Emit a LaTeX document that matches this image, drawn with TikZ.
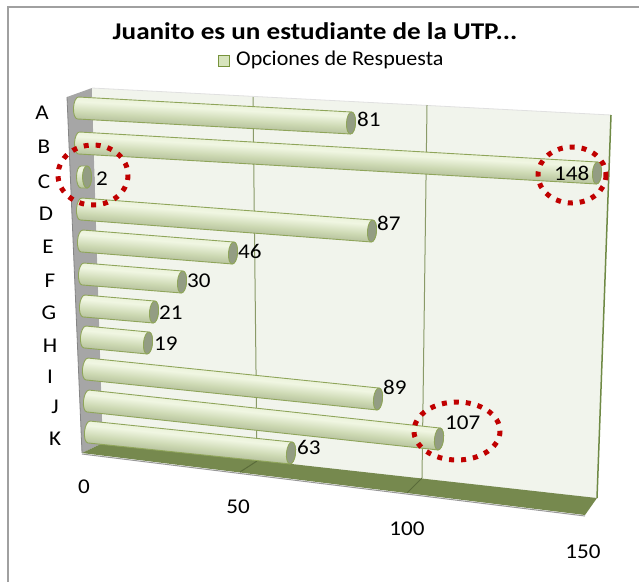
\documentclass[tikz,border=0pt]{standalone}
\usepackage{fontspec}
\setmainfont{Carlito}
\definecolor{framecol}{HTML}{A0A0A0}
\definecolor{sidewall}{HTML}{A6A6A6}
\definecolor{backwall}{HTML}{F1F4EC}
\definecolor{gridcol}{HTML}{8A9A68}
\definecolor{walledge}{HTML}{6F8A45}
\definecolor{floorcol}{HTML}{76894E}
\definecolor{floorgrid}{HTML}{5A6B3A}
\definecolor{barline}{HTML}{8FA55A}
\definecolor{capcol}{HTML}{939D83}
\definecolor{cA}{HTML}{98A083}
\definecolor{cB}{HTML}{AAB592}
\definecolor{cC}{HTML}{CCD8B2}
\definecolor{cD}{HTML}{F0F6E2}
\definecolor{cE}{HTML}{E8F0D5}
\definecolor{cF}{HTML}{D6E2BE}
\definecolor{redc}{HTML}{C00000}
\definecolor{legfill}{HTML}{D7E4BD}
\definecolor{legline}{HTML}{77933C}
\pgfdeclareverticalshading{cyl}{100bp}{color(0bp)=(cA); color(15bp)=(cB); color(40bp)=(cC); color(65bp)=(cD); color(85bp)=(cE); color(100bp)=(cF)}
\newcommand\wx[1]{\scalebox{1.1}[1]{#1}}
\tikzset{
  gridline/.style={draw=gridcol, line width=1},
  redcirc/.style={draw=redc, line width=5, dash pattern=on 5 off 7},
  vallabel/.style={anchor=west, inner sep=0pt},
  catlabel/.style={inner sep=0pt},
  axlabel/.style={inner sep=0pt},
}
\newcommand\cylbar[4]{%
  \pgfmathsetmacro\bdx{#3-#1}%
  \pgfmathsetmacro\bdy{#4-#2}%
  \pgfmathsetmacro\blen{veclen(\bdx,\bdy)}%
  \pgfmathsetmacro\bang{-atan2(\bdy,\bdx)}%
  \begin{scope}[transform canvas={shift={(#1,#2)},rotate=\bang}]
    \shade[shading=cyl, draw=barline, line width=0.9]
      (0,-11) -- (\blen,-11)
      arc[start angle=-90, end angle=90, x radius=4.5, y radius=11]
      -- (0,11)
      arc[start angle=90, end angle=270, x radius=4.5, y radius=11] -- cycle;
    \filldraw[fill=capcol, draw=barline, line width=0.9] (\blen,0) ellipse[x radius=4.5, y radius=11];
  \end{scope}}
\begin{document}
\begin{tikzpicture}[x=1pt,y=-1pt, font=\fontsize{21}{23}\selectfont]
\useasboundingbox (0,0) rectangle (639,582);
\fill[white] (0,0) rectangle (639,582);
\draw[framecol, line width=1.5] (8,582) -- (8,7) -- (639,7);
% title and legend
\node[font=\fontsize{24}{26}\selectfont\bfseries, inner sep=0pt] (title) at (315,31) {\scalebox{1.13}[1]{Juanito es un estudiante de la UTP...}};
\node[draw=legline, fill=legfill, line width=1.5, minimum size=11, inner sep=0pt] (legbox) at (224,61) {};
\node[anchor=west, inner sep=0pt] (legtext) at (236,60) {\scalebox{1.05}[1]{Opciones de Respuesta}};
% walls
\fill[sidewall] (67,97) -- (92,88) -- (103,443) -- (82,453) -- cycle;
\draw[sidewall!80!black, line width=0.8] (67,97) -- (82,453);
\fill[backwall] (92,88) -- (611,115) -- (597,498) -- (103,443) -- cycle;
\draw[black!12, line width=0.8] (92,88) -- (611,115);
\draw[gridline] (253,97) -- (257,461);
\draw[gridline] (427,105) -- (422,478);
\draw[walledge, line width=1.5] (611,115) -- (597,498);
% floor
\fill[floorcol] (103,443) -- (597,498) -- (585,515) -- (82,453) -- cycle;
\draw[black!40, line width=1] (82,454) -- (585,516);
\draw[floorgrid, line width=1] (257,461) -- (240,472);
\draw[floorgrid, line width=1] (422,478) -- (407,493);
% bars
\cylbar{78}{108}{351}{123}
\cylbar{79}{143}{597}{173}
\cylbar{81}{177}{87}{177}
\cylbar{81}{209}{372}{231}
\cylbar{82}{241}{233}{253}
\cylbar{83}{274}{182}{282}
\cylbar{84}{306}{154}{312}
\cylbar{85}{337}{148}{343}
\cylbar{87}{369}{378}{399}
\cylbar{88}{401}{439}{439}
\cylbar{89}{432}{291}{453}
% value labels
\node[vallabel] (vA) at (357,119) {\wx{81}};
\node[vallabel] (vB) at (554,173) {\wx{148}};
\node[vallabel] (vC) at (96,179) {\wx{2}};
\node[vallabel] (vD) at (377,223) {\wx{87}};
\node[vallabel] (vE) at (238,251) {\wx{46}};
\node[vallabel] (vF) at (187,281) {\wx{30}};
\node[vallabel] (vG) at (159,313) {\wx{21}};
\node[vallabel] (vH) at (154,344) {\wx{19}};
\node[vallabel] (vI) at (383,387) {\wx{89}};
\node[vallabel] (vJ) at (445,423) {\wx{107}};
\node[vallabel] (vK) at (297,447) {\wx{63}};
% category labels
\node[catlabel] (cA) at (42,113) {\wx{A}};
\node[catlabel] (cB) at (44,147) {\wx{B}};
\node[catlabel] (cC) at (44,182) {\wx{C}};
\node[catlabel] (cD) at (46,214) {\wx{D}};
\node[catlabel] (cE) at (48,247) {\wx{E}};
\node[catlabel] (cF) at (50,281) {\wx{F}};
\node[catlabel] (cG) at (49,313) {\wx{G}};
\node[catlabel] (cH) at (50,346) {\wx{H}};
\node[catlabel] (cI) at (50,377) {\wx{I}};
\node[catlabel] (cJ) at (55,407) {\wx{J}};
\node[catlabel] (cK) at (55,439) {\wx{K}};
% axis labels
\node[axlabel] (x0) at (84,487) {\wx{0}};
\node[axlabel] (x50) at (238,507) {\wx{50}};
\node[axlabel] (x100) at (407,529) {\wx{100}};
\node[axlabel] (x150) at (583,552) {\wx{150}};
% red dotted circles
\draw[redcirc] (93,175) ellipse[x radius=35, y radius=30];
\draw[redcirc] (572,175) ellipse[x radius=34, y radius=28];
\draw[redcirc] (457,431) ellipse[x radius=43, y radius=29];
\end{tikzpicture}
\end{document}
